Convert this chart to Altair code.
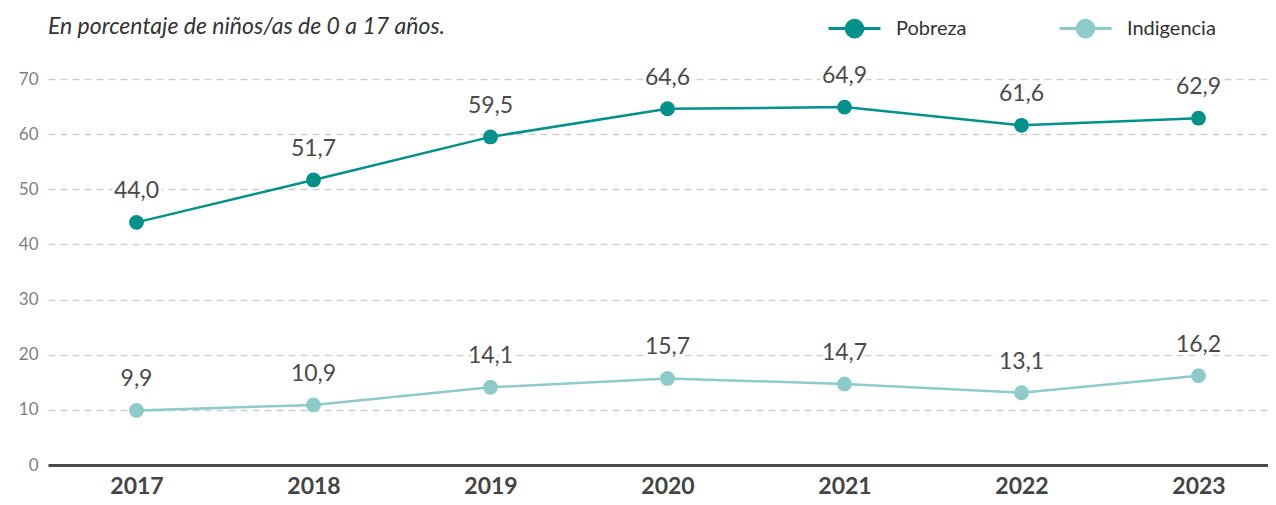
import altair as alt
import pandas as pd

years = [2017, 2018, 2019, 2020, 2021, 2022, 2023]
pobreza = [44.0, 51.7, 59.5, 64.6, 64.9, 61.6, 62.9]
indigencia = [9.9, 10.9, 14.1, 15.7, 14.7, 13.1, 16.2]
series = ["Pobreza", "Indigencia"]
colors = ["#00918B", "#8DCACA"]
y_ticks = [0, 10, 20, 30, 40, 50, 60, 70]

rows = []
for s, vals in zip(series, [pobreza, indigencia]):
    for yr, v in zip(years, vals):
        rows.append({"year": yr, "serie": s, "value": v})
df = pd.DataFrame(rows)

FONT = "Lato"
sym = "M-1,0L-0.32,0M0.32,0A0.32,0.32 0 1,1 -0.32,0A0.32,0.32 0 1,1 0.32,0M0.32,0L1,0"

x = alt.X("year:Q",
          scale=alt.Scale(domain=[2016.5, 2016.5 + 1220 / 177], nice=False, zero=False),
          axis=alt.Axis(values=years, format="d", title=None, grid=False, ticks=False,
                        domainColor="#4a4a4a", domainWidth=3, labelFont=FONT,
                        labelFontSize=23, labelFontWeight="bold", labelColor="#444444",
                        labelPadding=10))
y = alt.Y("value:Q",
          scale=alt.Scale(domain=[0, 70], nice=False),
          axis=alt.Axis(values=y_ticks, title=None, domain=False, ticks=False,
                        gridDash=[7, 5], gridColor="#cfcfcf", gridWidth=1.5,
                        labelFont=FONT, labelFontSize=17, labelColor="#808080",
                        labelPadding=10))
color = alt.Color("serie:N",
                  scale=alt.Scale(domain=series, range=colors),
                  legend=alt.Legend(title=None, orient="none", legendX=779, legendY=-78,
                                    direction="horizontal", symbolType=sym, symbolSize=2704,
                                    symbolStrokeWidth=3, labelFont=FONT, labelFontSize=20,
                                    labelColor="#333333", labelOffset=14, columnPadding=86))

base = alt.Chart(df)
lines = base.mark_line(strokeWidth=2.5).encode(x=x, y=y, color=color)
points = base.mark_point(filled=True, size=220, opacity=1, shape="circle").encode(
    x=x, y=y, color=alt.Color("serie:N", scale=alt.Scale(domain=series, range=colors), legend=None))
halo = base.mark_text(dy=-31, fontSize=23, font=FONT, stroke="white", strokeWidth=6,
                      color="white").transform_calculate(
    lab="replace(format(datum.value, '.1f'), '.', ',')").encode(x=x, y=y, text="lab:N")
labels = base.mark_text(dy=-31, fontSize=23, font=FONT, color="#4a4a4a").transform_calculate(
    lab="replace(format(datum.value, '.1f'), '.', ',')").encode(x=x, y=y, text="lab:N")

chart = alt.layer(lines, points, halo, labels).properties(
    width=1220, height=386,
    autosize=alt.AutoSizeParams(type="none"),
    padding={"left": 40, "top": 71, "right": 0, "bottom": 32},
    title=alt.Title("En porcentaje de niños/as de 0 a 17 años.", anchor="start",
                    font=FONT, fontSize=23, fontStyle="italic", fontWeight="normal",
                    color="#333333", offset=0, frame="group", baseline="bottom", dy=61),
).configure_view(stroke=None)

chart.save("out.html", embed_options={"renderer": "svg", "actions": False})
